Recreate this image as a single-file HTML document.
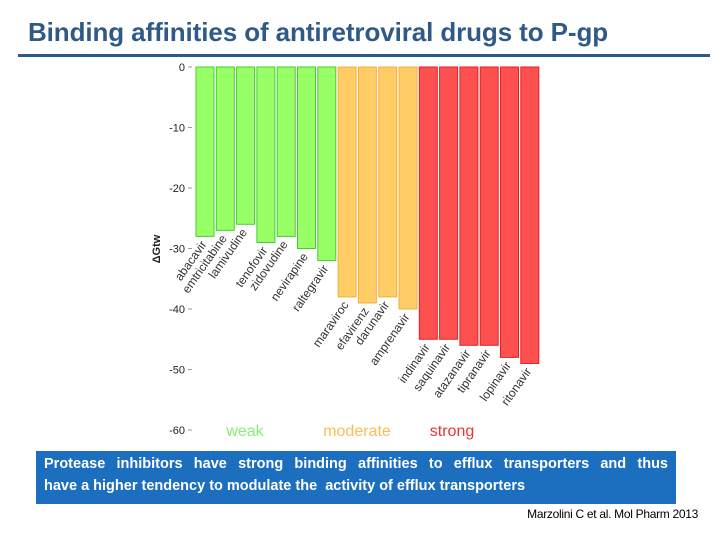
<!DOCTYPE html>
<html><head><meta charset="utf-8"><style>
html,body{margin:0;padding:0;background:#fff;}
body{width:720px;height:540px;position:relative;overflow:hidden;font-family:"Liberation Sans",sans-serif;}
#title{position:absolute;left:28px;top:17px;font-size:26px;font-weight:bold;color:#2f5a88;letter-spacing:-0.1px;}
#rule{position:absolute;left:18px;top:54px;width:692px;height:3px;background:#2a5a87;}
#box{position:absolute;left:36px;top:451px;width:624px;height:51px;background:#1c6fbf;color:#fff;font-weight:bold;font-size:14.5px;line-height:22px;padding:2px 8px 0 8px;box-sizing:content-box;}
#box span{display:block;text-align:justify;text-align-last:justify;white-space:nowrap;}
#cite{position:absolute;right:22px;top:507px;font-size:12px;color:#000;letter-spacing:-0.3px;}
svg{position:absolute;left:0;top:0;}
</style></head><body>
<div id="title">Binding affinities of antiretroviral drugs to P-gp</div>
<div id="rule"></div>
<svg id="chart" width="720" height="540"></svg>
<div id="box"><span style="white-space:normal">Protease inhibitors have strong binding affinities to efflux transporters and thus</span>have a higher tendency to modulate the&nbsp; activity of efflux transporters</div>
<div id="cite">Marzolini C et al. Mol Pharm 2013</div>
<script>
const drugs=["abacavir","emtricitabine","lamivudine","tenofovir","zidovudine","nevirapine","raltegravir","maraviroc","efavirenz","darunavir","amprenavir","indinavir","saquinavir","atazanavir","tipranavir","lopinavir","ritonavir"];
const dgtw=[-28,-27,-26,-29,-28,-30,-32,-38,-39,-38,-40,-45,-45,-46,-46,-48,-49];
const groups=["weak","weak","weak","weak","weak","weak","weak","moderate","moderate","moderate","moderate","strong","strong","strong","strong","strong","strong"];
const yTicks=[0,-10,-20,-30,-40,-50,-60];
const legendLabels=["weak","moderate","strong"];
const NS="http://www.w3.org/2000/svg";
const svg=document.getElementById('chart');
const fill={weak:"#99ff66",moderate:"#ffcc66",strong:"#ff5050"};
const stroke={weak:"#44cc33",moderate:"#f0b040",strong:"#dd2222"};
const legCol={weak:"#88ee77",moderate:"#ffbb55",strong:"#ee3333"};
const y0=67,pxPerUnit=6.05,x0=196,pitch=20.3,bw=18;
function yScale(v){return y0-v*pxPerUnit;}
function xScale(i){return x0+i*pitch;}
function mk(t,a){const e=document.createElementNS(NS,t);for(const k in a)e.setAttribute(k,a[k]);svg.appendChild(e);return e;}
yTicks.forEach(t=>{
 const y=yScale(t);
 const l=mk('line',{x1:188,x2:192,y1:y,y2:y,stroke:'#999','stroke-width':1});
 
 
 const tx=mk('text',{x:185,y:y+4,'text-anchor':'end','font-size':11,fill:'#222'});
 tx.textContent=t;
 
 
});
const yt=mk('text',{x:0,y:0,'font-size':11,'font-weight':'bold',fill:'#222','text-anchor':'middle',transform:'translate(160,249) rotate(-90)'});
yt.textContent='\u0394Gtw';


dgtw.forEach((v,i)=>{
 const x=xScale(i),yb=yScale(v);
 const r=mk('rect',{x:x,y:y0,width:bw,height:yb-y0,fill:fill[groups[i]],stroke:stroke[groups[i]],'stroke-width':1});
 
 
 const cx=x+bw/2+2,cy=yb+8;
 const t=mk('text',{x:cx,y:cy,'text-anchor':'end','font-size':12,fill:'#333',transform:`rotate(-55 ${cx} ${cy})`});
 t.textContent=drugs[i];
 
 
});
const legX=[245,357,452];
legendLabels.forEach((g,i)=>{
 const t=mk('text',{x:legX[i],y:436,'text-anchor':'middle','font-size':16,fill:legCol[g]});
 t.textContent=g;
 
 
});
</script>
</body></html>
